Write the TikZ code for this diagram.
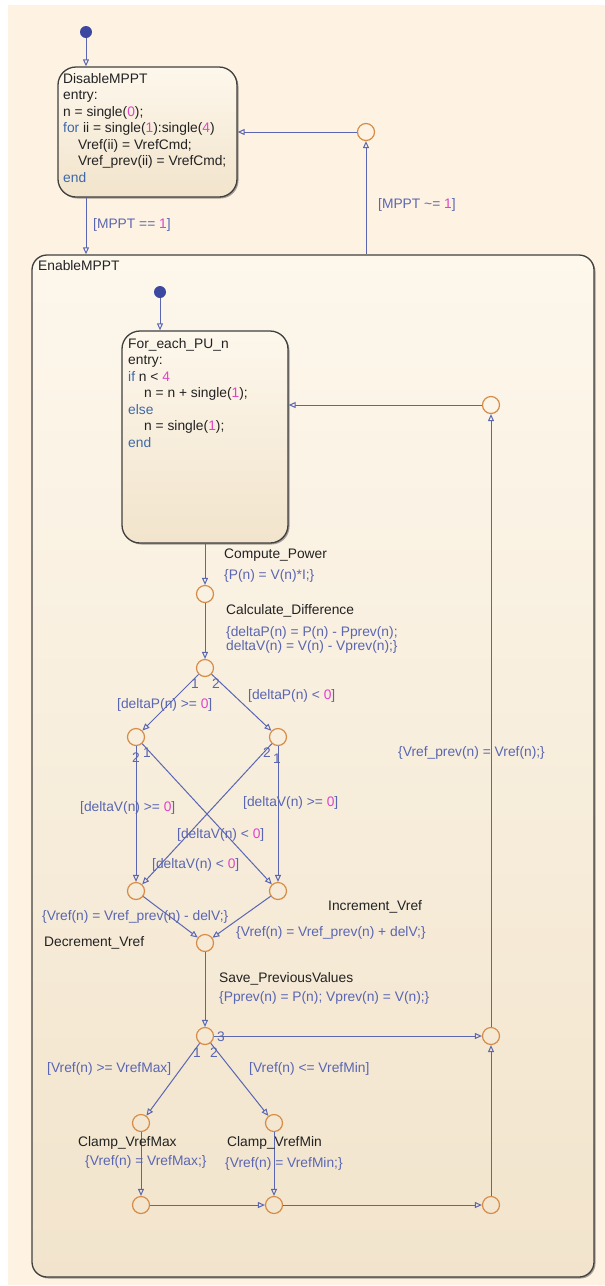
\documentclass[tikz,border=0pt]{standalone}
\usepackage{fontspec}
\setmainfont{Liberation Sans}
\usetikzlibrary{arrows.meta,shadows}
\definecolor{bgc}{HTML}{FEF3E2}
\definecolor{trc}{HTML}{5A66B2}
\definecolor{jc}{HTML}{D68C46}
\definecolor{dotc}{HTML}{3C48A0}
\definecolor{kwc}{HTML}{3D68A8}
\definecolor{numc}{HTML}{E042C8}
\definecolor{txc}{HTML}{222222}
\definecolor{stc}{HTML}{404040}
\definecolor{sttop}{HTML}{FDF7EC}
\definecolor{stbot}{HTML}{F2E4CC}
\newcommand{\nm}[1]{\textcolor{numc}{#1}}
\newcommand{\kw}[1]{\textcolor{kwc}{#1}}
\newcommand{\fs}{\fontsize{13.8}{16.5}\selectfont}
\tikzset{
  stbox/.style={draw=stc, line width=1.3pt, rectangle, inner sep=0,
    top color=sttop, bottom color=stbot,
    drop shadow={shadow xshift=1.5pt, shadow yshift=-1.5pt, opacity=0.35, fill=black}},
  jn/.style={circle, draw=jc, line width=1.2pt, minimum size=17pt, inner sep=0},
  dflt/.style={circle, fill=dotc, minimum size=12pt, inner sep=0},
  tr/.style={draw=trc, line width=1pt, -{Triangle[open, length=7pt, width=6pt]}},
  codetext/.style={anchor=north west, align=left, inner sep=0, font=\fs, text=txc},
  lbl/.style={anchor=west, inner sep=0, font=\fs, text=trc, text height=10pt, text depth=3pt},
  tname/.style={anchor=west, inner sep=0, font=\fs, text=txc, text height=10pt, text depth=3pt},
  ord/.style={inner sep=0, font=\fs, text=trc}
}
\begin{document}
\begin{tikzpicture}[x=1pt, y=-1pt]
\useasboundingbox (0,0) rectangle (605,1286);
\fill[white] (0,0) rectangle (605,1286);
\fill[bgc] (8,5) rectangle (605,1285);

% states
\node[stbox, minimum width=562pt, minimum height=1022pt, rounded corners=15pt] (en) at (313,766) {};
\node[stbox, minimum width=179pt, minimum height=130pt, rounded corners=18pt] (dis) at (147.5,132) {};
\node[stbox, minimum width=166pt, minimum height=212pt, rounded corners=18pt] (fe) at (205,437) {};

% state texts
\node[codetext] (distext) at (63,73) {DisableMPPT\\entry:\\n = single(\nm{0});\\\kw{for} ii = single(\nm{1}):single(\nm{4})\\\hspace*{15pt}Vref(ii) = VrefCmd;\\\hspace*{15pt}Vref\_prev(ii) = VrefCmd;\\\kw{end}};
\node[tname] (entitle) at (38,267) {EnableMPPT};
\node[codetext] (fetext) at (128,338) {For\_each\_PU\_n\\entry:\\\kw{if} n < \nm{4}\\\hspace*{16pt}n = n + single(\nm{1});\\\kw{else}\\\hspace*{16pt}n = single(\nm{1});\\\kw{end}};

% default transitions dots
\node[dflt] (d0) at (86,32) {};
\node[dflt] (d1) at (160,292) {};

% junctions
\node[jn] (j0) at (366,132) {};
\node[jn] (j1) at (205,594) {};
\node[jn] (j2) at (205,668) {};
\node[jn] (j3) at (136,737) {};
\node[jn] (j4) at (278,737) {};
\node[jn] (j5) at (136,891) {};
\node[jn] (j6) at (278,891) {};
\node[jn] (j7) at (205,943) {};
\node[jn] (j8) at (205,1036) {};
\node[jn] (j9) at (491,1036) {};
\node[jn] (j10) at (141,1123) {};
\node[jn] (j11) at (274,1123) {};
\node[jn] (j12) at (141,1205) {};
\node[jn] (j13) at (274,1205) {};
\node[jn] (j14) at (491,1205) {};
\node[jn] (j15) at (491,405) {};

% transitions
\draw[tr] (d0) -- (d0 |- dis.north);
\draw[tr] (dis.south -| d0) -- (en.north -| d0);
\draw[tr] (en.north -| j0) -- (j0);
\draw[tr] (j0) -- (j0 -| dis.east);
\draw[tr] (d1) -- (d1 |- fe.north);
\draw[tr] (fe.south -| j1) -- (j1);
\draw[tr] (j1) -- (j2);
\draw[tr] (j2) -- (j3);
\draw[tr] (j2) -- (j4);
\draw[tr] (j3) -- (j5);
\draw[tr] (j3) -- (j6);
\draw[tr] (j4) -- (j5);
\draw[tr] (j4) -- (j6);
\draw[tr] (j5) -- (j7);
\draw[tr] (j6) -- (j7);
\draw[tr] (j7) -- (j8);
\draw[tr] (j8) -- (j9);
\draw[tr] (j8) -- (j10);
\draw[tr] (j8) -- (j11);
\draw[tr] (j10) -- (j12);
\draw[tr] (j11) -- (j13);
\draw[tr] (j12) -- (j13);
\draw[tr] (j13) -- (j14);
\draw[tr] (j14) -- (j9);
\draw[tr] (j9) -- (j15);
\draw[tr] (j15) -- (j15 -| fe.east);

% labels
\node[lbl] (l1) at (93,225) {[MPPT == \nm{1}]};
\node[lbl] (l2) at (378,205) {[MPPT \textasciitilde= \nm{1}]};
\node[tname] (n1) at (224,555) {Compute\_Power};
\node[lbl] (l3) at (224,576) {\{P(n) = V(n)*I;\}};
\node[tname] (n2) at (226,611) {Calculate\_Difference};
\node[lbl, align=left, font=\fontsize{13.8}{14}\selectfont, text height=, text depth=] (l4) at (226,640) {\{deltaP(n) = P(n) - Pprev(n);\\deltaV(n) = V(n) - Vprev(n);\}};
\node[lbl] (l5) at (117,705) {[deltaP(n) >= \nm{0}]};
\node[lbl] (l6) at (248,696) {[deltaP(n) < \nm{0}]};
\node[lbl] (l7) at (80,808) {[deltaV(n) >= \nm{0}]};
\node[lbl] (l8) at (243,803) {[deltaV(n) >= \nm{0}]};
\node[lbl] (l9) at (177,835) {[deltaV(n) < \nm{0}]};
\node[lbl] (l10) at (152,865) {[deltaV(n) < \nm{0}]};
\node[lbl] (l11) at (42,917) {\{Vref(n) = Vref\_prev(n) - delV;\}};
\node[tname] (n3) at (44,943) {Decrement\_Vref};
\node[tname] (n4) at (328,907) {Increment\_Vref};
\node[lbl] (l12) at (236,933) {\{Vref(n) = Vref\_prev(n) + delV;\}};
\node[tname] (n5) at (219,979) {Save\_PreviousValues};
\node[lbl] (l13) at (219,998) {\{Pprev(n) = P(n); Vprev(n) = V(n);\}};
\node[lbl] (l14) at (47,1069) {[Vref(n) >= VrefMax]};
\node[lbl] (l15) at (249,1069) {[Vref(n) <= VrefMin]};
\node[tname] (n6) at (78,1143) {Clamp\_VrefMax};
\node[lbl] (l16) at (85,1162) {\{Vref(n) = VrefMax;\}};
\node[tname] (n7) at (227,1143) {Clamp\_VrefMin};
\node[lbl] (l17) at (225,1164) {\{Vref(n) = VrefMin;\}};
\node[lbl] (l18) at (398,753) {\{Vref\_prev(n) = Vref(n);\}};

% execution order numbers
\node[ord] (o1) at (195,684) {1};
\node[ord] (o2) at (216,684) {2};
\node[ord] (o3) at (136,758) {2};
\node[ord] (o4) at (147,753) {1};
\node[ord] (o5) at (267,753) {2};
\node[ord] (o6) at (277,759) {1};
\node[ord] (o7) at (221,1037) {3};
\node[ord] (o8) at (197,1053) {1};
\node[ord] (o9) at (214,1053) {2};
\end{tikzpicture}
\end{document}
